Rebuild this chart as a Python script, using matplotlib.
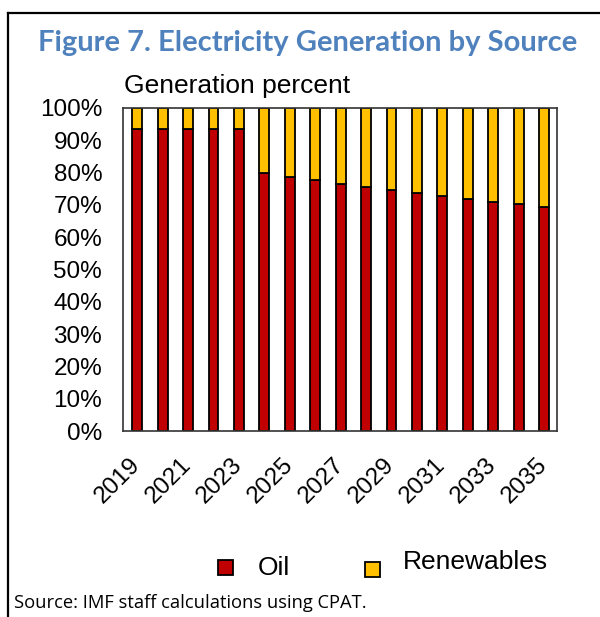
import matplotlib
matplotlib.use("Agg")
import matplotlib.pyplot as plt
import matplotlib.transforms as mtransforms
from matplotlib.lines import Line2D
from matplotlib.patches import Rectangle
import numpy as np

years = list(range(2019, 2036))
oil = [93.6, 93.6, 93.6, 93.6, 93.6, 79.8, 78.6, 77.6, 76.5, 75.5,
       74.5, 73.7, 72.8, 71.9, 71.0, 70.3, 69.4]
renewables = [100 - v for v in oil]
tick_labels = [str(y) if (y - 2019) % 2 == 0 else "" for y in years]
y_ticks = list(range(0, 101, 10))

OIL_COLOR = "#C00000"
REN_COLOR = "#FFC000"
TITLE_COLOR = "#4F81BD"

plt.rcParams["font.family"] = ["Liberation Sans", "DejaVu Sans"]

fig = plt.figure(figsize=(6.0, 6.17), dpi=100)
W, H = 600, 617

def fx(px):
    return px / W

def fy(py):
    return 1 - py / H

# outer frame (left and top edges)
fig.add_artist(Line2D([fx(8), fx(8)], [fy(13), 0], color="black", lw=1.6,
                      transform=fig.transFigure))
fig.add_artist(Line2D([fx(8), 1.0], [fy(13), fy(13)], color="black", lw=1.6,
                      transform=fig.transFigure))

fig.text(fx(308), fy(43), "Figure 7. Electricity Generation by Source",
         ha="center", va="center", fontsize=21, fontweight="bold",
         color=TITLE_COLOR, family=["Lato", "DejaVu Sans"])

ax = fig.add_axes([fx(123), fy(431), fx(557) - fx(123), fy(108) - fy(431)])
x = np.arange(len(years))
ax.bar(x, oil, width=0.39, color=OIL_COLOR, edgecolor="black", linewidth=1.3,
       label="Oil", zorder=2)
ax.bar(x, renewables, bottom=oil, width=0.39, color=REN_COLOR,
       edgecolor="black", linewidth=1.3, label="Renewables", zorder=2)

ax.set_xlim(-0.56, len(years) - 0.49)
ax.set_ylim(0, 100)
ax.set_yticks(y_ticks)
ax.set_yticklabels([f"{v}%" for v in y_ticks], fontsize=17.5)
ax.set_xticks(x)
ax.set_xticklabels(tick_labels, fontsize=17.5, rotation=45, ha="right",
                   rotation_mode="anchor")
ax.tick_params(axis="x", length=0, pad=8)
ax.tick_params(axis="y", length=0, pad=15)
shift = mtransforms.ScaledTranslation(-8 / 100, -12 / 100, fig.dpi_scale_trans)
for lbl in ax.get_xticklabels():
    lbl.set_transform(lbl.get_transform() + shift)
for s in ax.spines.values():
    s.set_color("#333333")
    s.set_linewidth(1.2)

fig.text(fx(124), fy(86), "Generation percent", ha="left", va="center",
         fontsize=19)

# legend
size = 15
for cx, cy, col, label, tx, ty in [(225, 567, OIL_COLOR, "Oil", 258, 568),
                                   (372, 569, REN_COLOR, "Renewables", 403, 562)]:
    fig.add_artist(Rectangle((fx(cx - size / 2), fy(cy + size / 2)),
                             size / W, size / H, facecolor=col,
                             edgecolor="black", lw=1.3,
                             transform=fig.transFigure))
    fig.text(fx(tx), fy(ty), label, ha="left", va="center", fontsize=19)

fig.text(fx(14), fy(603), "Source: IMF staff calculations using CPAT.",
         ha="left", va="center", fontsize=13.2,
         family=["Open Sans", "DejaVu Sans"])

fig.savefig("out.png", dpi=100)
